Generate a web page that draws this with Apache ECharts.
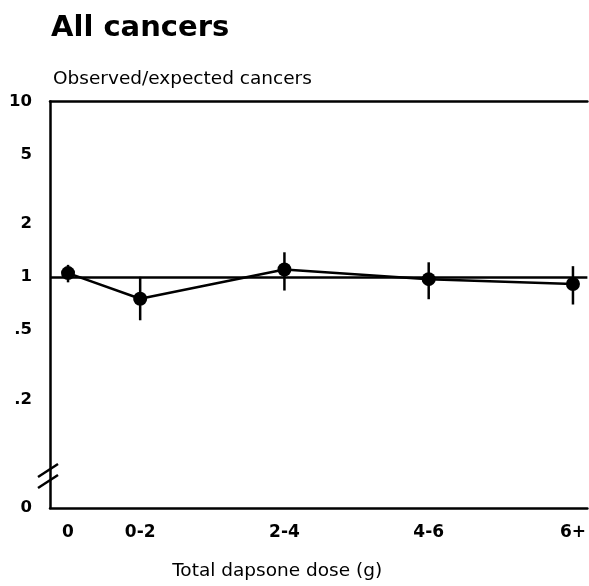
<!DOCTYPE html>
<html>
<head>
<meta charset="utf-8">
<script src="https://cdn.jsdelivr.net/npm/echarts@6/dist/echarts.min.js"></script>
<style>
  html, body { margin: 0; padding: 0; background: #fff; }
  #main { width: 589px; height: 586px; }
</style>
</head>
<body>
<div id="main"></div>
<script>
    // dose groups and where they sit on the dose axis (g)
    var categories = ['0', '0-2', '2-4', '4-6', '6+'];
    var dosePos = [0, 1, 3, 5, 7];
    // observed/expected ratio and its confidence interval
    var ratio = [1.05, 0.75, 1.10, 0.97, 0.91];
    var lower = [0.93, 0.565, 0.835, 0.745, 0.695];
    var upper = [1.17, 1.00, 1.38, 1.21, 1.15];
    // y axis tick labels (log scale, "0" sits at the broken bottom)
    var yTickValues = [0.048, 0.2, 0.5, 1, 2, 5, 10];
    var yTickLabels = ['0', '.2', '.5', '1', '2', '5', '10'];

    var font = 'DejaVu Sans';
    var lg = function (v) { return Math.log10(v); };

    var mychart = echarts.init(document.getElementById('main'));

    var pts = [], bars = [];
    for (var i = 0; i < categories.length; i++) {
        pts.push([dosePos[i], lg(ratio[i])]);
        bars.push([dosePos[i], lg(lower[i]), lg(upper[i])]);
    }

    mychart.setOption({
        animation: false,
        backgroundColor: '#fff',
        title: [{
            text: 'All cancers',
            left: 46, top: 9,
            textStyle: { fontFamily: font, fontWeight: 'bold', fontSize: 29, color: '#000' }
        }, {
            text: 'Observed/expected cancers',
            left: 48, top: 65,
            textStyle: { fontFamily: font, fontWeight: 'normal', fontSize: 18.5, color: '#000' }
        }],
        grid: { left: 50, right: 0, top: 101.5, bottom: 72 },
        xAxis: [{
            type: 'value',
            min: -0.25, max: 7.2,
            name: 'Total dapsone dose (g)',
            nameLocation: 'middle',
            nameGap: 54,
            nameTextStyle: { fontFamily: font, fontSize: 18.5, color: '#000', padding: [0, 83, 0, 0] },
            axisLine: { show: true, onZero: false, lineStyle: { color: '#000', width: 2.5 } },
            axisTick: { show: false },
            splitLine: { show: false },
            axisLabel: {
                customValues: dosePos,
                margin: 16,
                fontFamily: font, fontWeight: 'bold', fontSize: 17, color: '#000',
                formatter: function (v) {
                    var k = dosePos.indexOf(Math.round(v));
                    return k >= 0 ? categories[k] : '';
                }
            }
        }, {
            type: 'value',
            position: 'top',
            min: -0.25, max: 7.2,
            axisLine: { show: true, onZero: false, lineStyle: { color: '#000', width: 2.5 } },
            axisTick: { show: false },
            axisLabel: { show: false },
            splitLine: { show: false }
        }],
        yAxis: {
            type: 'value',
            min: lg(yTickValues[0]), max: 1,
            axisLine: { show: true, onZero: false, lineStyle: { color: '#000', width: 2.5 } },
            axisTick: { show: false },
            splitLine: { show: false },
            axisLabel: {
                customValues: yTickValues.map(lg),
                margin: 18,
                fontFamily: font, fontWeight: 'bold', fontSize: 16.5, color: '#000',
                formatter: function (v) {
                    for (var j = 0; j < yTickValues.length; j++) {
                        if (Math.abs(lg(yTickValues[j]) - v) < 1e-6) return yTickLabels[j];
                    }
                    return '';
                }
            }
        },
        series: [{
            type: 'custom',
            renderItem: function (params, api) {
                var x = api.value(0);
                var a = api.coord([x, api.value(1)]);
                var b = api.coord([x, api.value(2)]);
                return {
                    type: 'line',
                    shape: { x1: a[0], y1: a[1], x2: b[0], y2: b[1] },
                    style: { stroke: '#000', lineWidth: 2.5 }
                };
            },
            data: bars,
            z: 2
        }, {
            type: 'line',
            data: pts,
            symbol: 'circle',
            symbolSize: 14,
            itemStyle: { color: '#000' },
            lineStyle: { color: '#000', width: 2.5 },
            markLine: {
                silent: true,
                symbol: 'none',
                label: { show: false },
                lineStyle: { color: '#000', width: 2.5, type: 'solid' },
                data: [{ yAxis: 0 }]
            },
            z: 3
        }]
    });

    // axis break mark on the y axis
    var brk = mychart.convertToPixel({ xAxisIndex: 0, yAxisIndex: 0 }, [-0.25, lg(0.074)]);
    var seg = function (dy) {
        return {
            type: 'line',
            shape: { x1: brk[0] - 12, y1: brk[1] + 7 + dy, x2: brk[0] + 8, y2: brk[1] - 6 + dy },
            style: { stroke: '#000', lineWidth: 2.5 }
        };
    };
    mychart.setOption({ graphic: [seg(-5), seg(6)] });
</script>
</body>
</html>
